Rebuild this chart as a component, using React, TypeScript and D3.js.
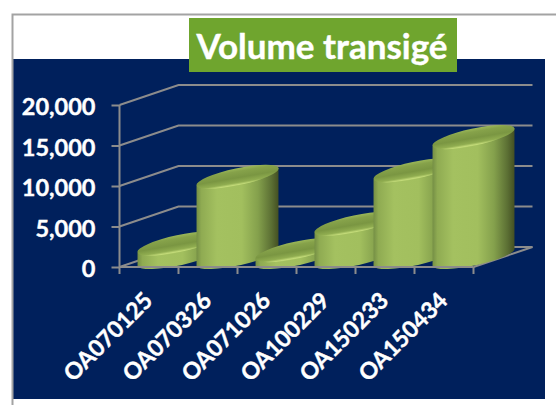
import React, { useEffect, useRef } from 'react'
import * as d3 from 'd3'

const categories = ['OA070125', 'OA070326', 'OA071026', 'OA100229', 'OA150233', 'OA150434']
const volumes = [1650, 9900, 850, 4100, 10700, 14800]
const yTicks = [0, 5000, 10000, 15000, 20000]
const title = 'Volume transigé'

const FONT = 'Lato, "Open Sans", sans-serif'

const App = () => {
  const svgRef = useRef<SVGSVGElement>(null)

  useEffect(() => {
    const svg = d3.select(svgRef.current)
    svg.selectAll('*').remove()

    // 3d box offsets
    const depthX = 59
    const depthY = -20
    const xScale = d3.scaleBand().domain(categories).range([119.5, 473.5])
    const yScale = d3.scaleLinear().domain([0, 20000]).range([267, 105])

    // frame
    svg.append('rect').attr('x', 13).attr('y', 59).attr('width', 532).attr('height', 340).attr('fill', '#00205c')
    svg.append('path').attr('d', 'M12.5,405V14.5H556').attr('fill', 'none').attr('stroke', '#a3a3a3').attr('stroke-width', 2)

    // gradients
    const defs = svg.append('defs')
    const side = defs.append('linearGradient').attr('id', 'side')
    ;[
      [0, '#758f45'], [0.06, '#8fab52'], [0.25, '#a4c160'], [0.55, '#a2bf5e'],
      [0.75, '#84a04c'], [0.91, '#5c7034'], [1, '#434f22'],
    ].forEach(([o, c]) => side.append('stop').attr('offset', o).attr('stop-color', c))
    const top = defs.append('linearGradient').attr('id', 'top').attr('x1', 0.6).attr('y1', 0).attr('x2', 0.4).attr('y2', 1)
    ;[
      [0, '#9db95a'], [0.2, '#86a24a'], [0.55, '#7a9642'], [0.82, '#90ad50'], [0.94, '#c2da78'], [1, '#b4ce6a'],
    ].forEach(([o, c]) => top.append('stop').attr('offset', o).attr('stop-color', c))

    const axisColor = '#8c8c8c'
    const grid = svg.append('g').attr('fill', 'none').attr('stroke', axisColor).attr('stroke-width', 2)
    const x0 = xScale.range()[0]
    const x1 = xScale.range()[1]

    // walls
    yTicks.forEach(t => {
      const y = yScale(t)
      grid.append('path').attr('d', `M${x0},${y}L${x0 + depthX},${y + depthY}H${x1 + depthX}`)
    })
    grid.append('path').attr('d', `M${x1 + depthX},${yScale(0) + depthY}L${x1},${yScale(0)}`)

    // cylinders
    const rx = 42
    const ry = 8.5
    const angle = -12
    const rad = (angle * Math.PI) / 180
    const t = Math.atan2(ry * Math.sin(rad), rx * Math.cos(rad))
    const ex = rx * Math.cos(t) * Math.cos(rad) - ry * Math.sin(t) * Math.sin(rad)
    const ey = rx * Math.cos(t) * Math.sin(rad) + ry * Math.sin(t) * Math.cos(rad)

    const bars = svg.append('g')
    categories.forEach((c, i) => {
      const cx = xScale(c)! + xScale.bandwidth() / 2 + depthX / 2
      const base = yScale(0) + depthY / 2
      const topY = base - (yScale(0) - yScale(volumes[i]))
      bars.append('path')
        .attr('d', `M${cx - ex},${topY - ey}L${cx - ex},${base - ey}A${rx},${ry} ${angle} 0 0 ${cx + ex},${base + ey}L${cx + ex},${topY + ey}Z`)
        .attr('fill', 'url(#side)')
      bars.append('ellipse')
        .attr('rx', rx).attr('ry', ry)
        .attr('transform', `translate(${cx},${topY}) rotate(${angle})`)
        .attr('fill', 'url(#top)')
    })

    // front axes
    svg.append('path')
      .attr('d', `M${x0},${yScale(20000)}V${yScale(0) + 7}M${x0},${yScale(0)}H${x1}`)
      .attr('fill', 'none').attr('stroke', axisColor).attr('stroke-width', 2)
    const tickMarks = svg.append('g').attr('stroke', axisColor).attr('stroke-width', 2)
    categories.forEach(c => {
      const x = xScale(c)! + xScale.bandwidth()
      tickMarks.append('line').attr('x1', x).attr('x2', x).attr('y1', yScale(0)).attr('y2', yScale(0) + 7)
    })

    // value axis
    const yAxis = d3.axisLeft(yScale).tickValues(yTicks).tickFormat(d3.format(',') as any).tickSize(8).tickPadding(16)
    const yG = svg.append('g').attr('transform', `translate(${x0},0)`).call(yAxis as any)
    yG.select('.domain').remove()
    yG.selectAll('line').attr('stroke', axisColor).attr('stroke-width', 2)
    yG.selectAll('text')
      .attr('fill', '#fff').attr('stroke', '#fff').attr('stroke-width', 0.4)
      .attr('font-family', FONT).attr('font-weight', 700).attr('font-size', 23.5)
      .attr('dy', '0.42em')

    // category axis
    const xAxis = d3.axisBottom(xScale).tickSize(0).tickPadding(0)
    const xG = svg.append('g').attr('transform', `translate(0,${yScale(0)})`).call(xAxis as any)
    xG.select('.domain').remove()
    xG.selectAll('text')
      .attr('fill', '#fff').attr('stroke', '#fff').attr('stroke-width', 0.4)
      .attr('font-family', FONT).attr('font-weight', 700).attr('font-size', 23)
      .attr('text-anchor', 'end').attr('dy', 0).attr('y', 0)
      .attr('transform', 'translate(5,35) rotate(-45)')

    // title box
    svg.append('rect').attr('x', 189).attr('y', 18).attr('width', 268).attr('height', 54).attr('fill', '#6fa52e')
    svg.append('text')
      .attr('x', 322).attr('y', 58.5).attr('text-anchor', 'middle')
      .attr('fill', '#fff').attr('stroke', '#fff').attr('stroke-width', 0.4)
      .attr('font-family', FONT).attr('font-weight', 700).attr('font-size', 35)
      .text(title)
  }, [])

  return <svg ref={svgRef} width={556} height={405} style={{ position: 'absolute', left: 0, top: 0 }} />
}

export default App
